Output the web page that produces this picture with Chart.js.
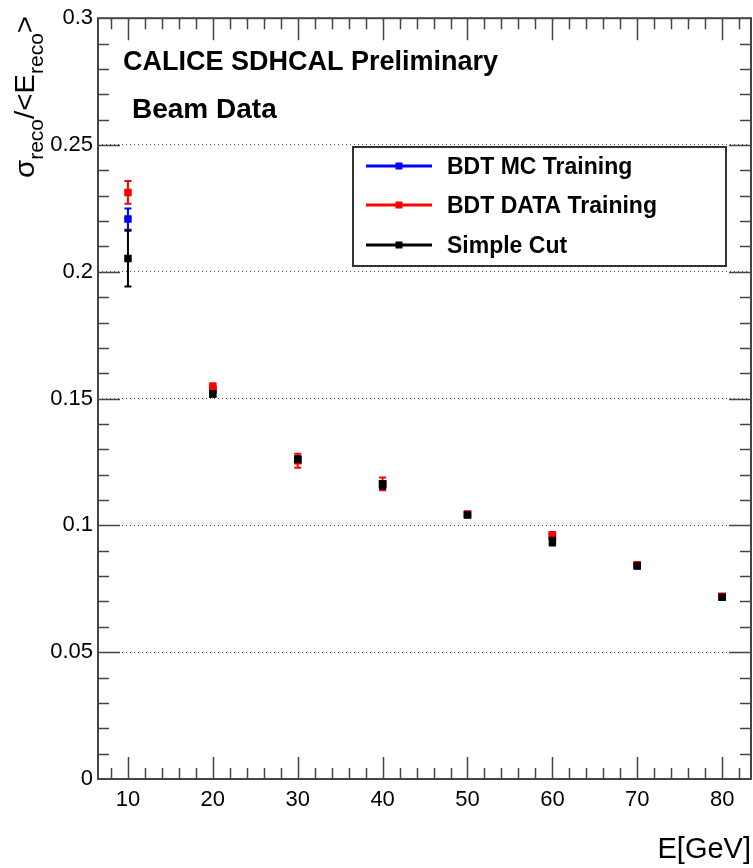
<!DOCTYPE html>
<html>
<head>
<meta charset="utf-8">
<script src="https://cdn.jsdelivr.net/npm/chart.js@4.4.1/dist/chart.umd.min.js"></script>
<style>
  html, body { margin: 0; padding: 0; background: #fff; }
</style>
</head>
<body>
<canvas id="resChart" width="753" height="868"></canvas>
<script>
// Beam energies (GeV)
const energies = [10, 20, 30, 40, 50, 60, 70, 80];

// Relative resolution sigma/<E> and its errors, per method
const mcRes   = [0.2208, 0.1535, 0.1258, 0.1162, 0.1043, 0.0958, 0.0842, 0.0719];
const mcErr   = [0.0042, 0.0010, 0.0010, 0.0010, 0.0008, 0.0010, 0.0008, 0.0007];
const dataRes = [0.2313, 0.1546, 0.1255, 0.1164, 0.1045, 0.0962, 0.0845, 0.0721];
const dataErr = [0.0045, 0.0015, 0.0028, 0.0025, 0.0008, 0.0012, 0.0008, 0.0007];
const cutRes  = [0.2052, 0.1518, 0.1261, 0.1160, 0.1041, 0.0936, 0.0840, 0.0717];
const cutErr  = [0.0110, 0.0010, 0.0012, 0.0015, 0.0008, 0.0015, 0.0008, 0.0007];

const seriesNames = ['BDT MC Training', 'BDT DATA Training', 'Simple Cut'];
const seriesColors = ['#0000ff', '#ff0000', '#000000'];

// Axis ticks
const xTickVals = [10, 20, 30, 40, 50, 60, 70, 80];
const yTickVals = [0, 0.05, 0.1, 0.15, 0.2, 0.25, 0.3];
const yTickLabels = ['0', '0.05', '0.1', '0.15', '0.2', '0.25', '0.3'];

const FONT = '"Liberation Sans", Arial, Helvetica, sans-serif';
const FRAME = '#444';

function toPoints(xs, ys) {
  return xs.map((x, i) => ({ x: x, y: ys[i] }));
}

function makeSet(idx, values, errors, order) {
  return {
    label: seriesNames[idx],
    data: toPoints(energies, values),
    errors: errors,
    order: order,
    showLine: false,
    pointStyle: 'rect',
    pointRadius: 5.3,
    pointBackgroundColor: seriesColors[idx],
    pointBorderColor: seriesColors[idx],
    pointBorderWidth: 0
  };
}

// vertical error bars with small caps, drawn just before each dataset's markers
const errorBars = {
  id: 'errorBars',
  beforeDatasetDraw(chart, args) {
    const ds = chart.data.datasets[args.index];
    const yScale = chart.scales.y;
    const ctx = chart.ctx;
    ctx.save();
    ctx.strokeStyle = ds.pointBackgroundColor;
    ctx.lineWidth = 2;
    args.meta.data.forEach((pt, i) => {
      const v = ds.data[i].y;
      const e = ds.errors[i];
      const yHi = yScale.getPixelForValue(v + e);
      const yLo = yScale.getPixelForValue(v - e);
      ctx.beginPath();
      ctx.moveTo(pt.x, yHi);
      ctx.lineTo(pt.x, yLo);
      ctx.moveTo(pt.x - 3.5, yHi);
      ctx.lineTo(pt.x + 3.5, yHi);
      ctx.moveTo(pt.x - 3.5, yLo);
      ctx.lineTo(pt.x + 3.5, yLo);
      ctx.stroke();
    });
    ctx.restore();
  }
};

// ROOT-like frame, inward ticks, titles, text labels and legend
const decorations = {
  id: 'decorations',
  afterDraw(chart) {
    const ctx = chart.ctx;
    const { left, right, top, bottom } = chart.chartArea;
    const xs = chart.scales.x;
    const ys = chart.scales.y;

    ctx.save();
    ctx.strokeStyle = FRAME;
    ctx.lineWidth = 1.5;
    ctx.beginPath();
    for (let v = 8; v <= 82; v += 2) {
      const px = Math.round(xs.getPixelForValue(v)) + 0.5;
      const len = v % 10 === 0 ? 22 : 11;
      ctx.moveTo(px, bottom); ctx.lineTo(px, bottom - len);
      ctx.moveTo(px, top); ctx.lineTo(px, top + len);
    }
    for (let k = 1; k < 30; k++) {
      const py = Math.round(ys.getPixelForValue(k / 100)) + 0.5;
      const len = k % 5 === 0 ? 22 : 11;
      ctx.moveTo(left, py); ctx.lineTo(left + len, py);
      ctx.moveTo(right, py); ctx.lineTo(right - len, py);
    }
    ctx.stroke();
    ctx.lineWidth = 2;
    ctx.strokeRect(left, top, right - left, bottom - top);

    // x title
    ctx.fillStyle = '#000';
    ctx.font = '29px ' + FONT;
    ctx.textAlign = 'right';
    ctx.textBaseline = 'alphabetic';
    ctx.fillText('E[GeV]', 751, 858);

    // y title with subscripts, rotated
    const parts = [
      { t: '\u03c3', sub: false },
      { t: 'reco', sub: true },
      { t: '/<E', sub: false },
      { t: 'reco', sub: true },
      { t: '>', sub: false }
    ];
    let total = 0;
    parts.forEach(p => {
      ctx.font = (p.sub ? '20px ' : '28px ') + FONT;
      p.w = ctx.measureText(p.t).width;
      total += p.w;
    });
    const sx = 162 / total;
    ctx.save();
    ctx.translate(34, 178);
    ctx.rotate(-Math.PI / 2);
    ctx.scale(sx, 1);
    ctx.textAlign = 'left';
    let cx = 0;
    parts.forEach(p => {
      ctx.font = (p.sub ? '20px ' : '28px ') + FONT;
      ctx.fillText(p.t, cx, p.sub ? 9 : 0);
      cx += p.w;
    });
    ctx.restore();

    // plot labels
    ctx.textAlign = 'left';
    ctx.font = 'bold 27px ' + FONT;
    ctx.fillText('CALICE SDHCAL Preliminary', 123, 70);
    ctx.font = 'bold 28px ' + FONT;
    ctx.fillText('Beam Data', 132, 118);

    // legend
    const bx = 353, by = 147, bw = 373, bh = 119;
    ctx.fillStyle = '#fff';
    ctx.fillRect(bx, by, bw, bh);
    ctx.strokeStyle = '#333';
    ctx.lineWidth = 2;
    ctx.strokeRect(bx, by, bw, bh);
    const rowY = [166, 205, 245];
    seriesNames.forEach((name, i) => {
      const y = rowY[i];
      ctx.strokeStyle = seriesColors[i];
      ctx.lineWidth = 3;
      ctx.beginPath();
      ctx.moveTo(366, y);
      ctx.lineTo(432, y);
      ctx.stroke();
      ctx.fillStyle = seriesColors[i];
      ctx.fillRect(395.5, y - 3.5, 7, 7);
      ctx.fillStyle = '#000';
      ctx.font = 'bold 23px ' + FONT;
      ctx.fillText(name, 447, y + 8);
    });
    ctx.restore();
  }
};

const ctx = document.getElementById('resChart').getContext('2d');
new Chart(ctx, {
  type: 'scatter',
  data: {
    datasets: [
      makeSet(0, mcRes, mcErr, 3),
      makeSet(1, dataRes, dataErr, 2),
      makeSet(2, cutRes, cutErr, 1)
    ]
  },
  options: {
    responsive: false,
    animation: false,
    devicePixelRatio: 1,
    layout: { autoPadding: false, padding: { top: 16, right: 2, left: 0, bottom: 0 } },
    plugins: {
      legend: { display: false },
      tooltip: { enabled: false }
    },
    scales: {
      x: {
        type: 'linear',
        min: 6.47,
        max: 83.4,
        afterBuildTicks: axis => { axis.ticks = xTickVals.map(v => ({ value: v })); },
        afterFit: axis => { axis.height = 89; },
        grid: { display: false, drawTicks: false },
        border: { display: false },
        ticks: {
          color: '#000',
          font: { family: FONT, size: 22 },
          padding: 8,
          maxRotation: 0,
          autoSkip: false
        }
      },
      y: {
        type: 'linear',
        min: 0,
        max: 0.3,
        afterBuildTicks: axis => { axis.ticks = yTickVals.map(v => ({ value: v })); },
        afterFit: axis => { axis.width = 98; },
        grid: {
          drawTicks: false,
          lineWidth: 1,
          color: c => (c.tick && c.tick.value > 0.001 && c.tick.value < 0.299) ? '#555' : 'rgba(0,0,0,0)'
        },
        border: { display: false, dash: [1, 3] },
        ticks: {
          color: '#000',
          font: { family: FONT, size: 22 },
          padding: 5,
          autoSkip: false,
          callback: (value, index) => yTickLabels[index]
        }
      }
    }
  },
  plugins: [errorBars, decorations]
});
</script>
</body>
</html>
